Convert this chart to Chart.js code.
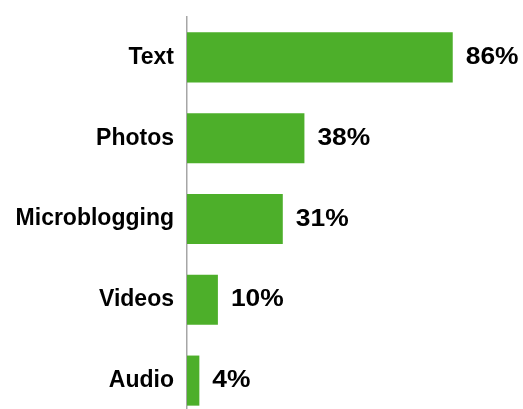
<!DOCTYPE html>
<html>
<head>
<meta charset="utf-8">
<title>Content types shared</title>
<script src="https://cdn.jsdelivr.net/npm/chart.js@4.4.1/dist/chart.umd.min.js"></script>
<style>
  html, body { margin: 0; padding: 0; background: #ffffff; overflow: hidden; }
  canvas { display: block; }
</style>
</head>
<body>
<canvas id="chart" width="523" height="421"></canvas>
<script>
// Share of each content type
const categories = ['Text', 'Photos', 'Microblogging', 'Videos', 'Audio'];
const shares = [86, 38, 31, 10, 4];
const valueLabels = ['86%', '38%', '31%', '10%', '4%'];

const FONT = "'Liberation Sans', Arial, sans-serif";
const BAR_GREEN = '#4DAF2A';

// Writes the percentage to the right of each bar (slightly widened type)
const barValueLabels = {
  id: 'barValueLabels',
  afterDatasetsDraw(chart) {
    const ctx = chart.ctx;
    const meta = chart.getDatasetMeta(0);
    const stretch = 1.1;
    ctx.save();
    ctx.font = 'bold 24px ' + FONT;
    ctx.fillStyle = '#000000';
    ctx.textAlign = 'left';
    ctx.textBaseline = 'middle';
    meta.data.forEach((bar, i) => {
      ctx.save();
      ctx.translate(bar.x + 13, bar.y);
      ctx.scale(stretch, 1);
      ctx.fillText(valueLabels[i], 0, 0);
      ctx.restore();
    });
    ctx.restore();
  }
};

new Chart(document.getElementById('chart'), {
  type: 'bar',
  data: {
    labels: categories,
    datasets: [{
      data: shares,
      backgroundColor: BAR_GREEN,
      borderWidth: 0,
      barPercentage: 0.62,
      categoryPercentage: 1.0
    }]
  },
  options: {
    indexAxis: 'y',
    responsive: false,
    animation: false,
    layout: { padding: { top: 17, right: 27, bottom: 0, left: 0 } },
    plugins: {
      legend: { display: false },
      tooltip: { enabled: false }
    },
    scales: {
      x: {
        display: false,
        min: 0,
        max: 100
      },
      y: {
        afterFit(scale) {
          scale.width = 187;
          scale.paddingTop = 0;
          scale.paddingBottom = 0;
        },
        grid: { display: false, drawTicks: false },
        border: { display: true, color: '#a6a6a6', width: 1.5 },
        ticks: {
          padding: 13,
          color: '#000000',
          font: { family: FONT, size: 23, weight: 'bold' }
        }
      }
    }
  },
  plugins: [barValueLabels]
});
</script>
</body>
</html>
